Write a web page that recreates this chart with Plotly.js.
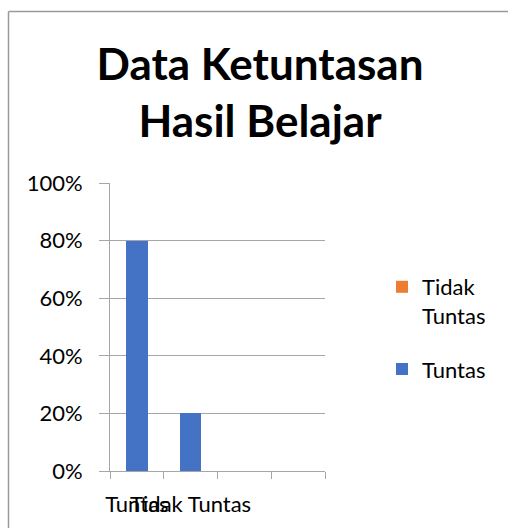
<!DOCTYPE html>
<html>
<head>
<meta charset="utf-8">
<script src="https://cdn.plot.ly/plotly-3.0.1.min.js"></script>
<style>
  html, body { margin: 0; padding: 0; background: #fff; }
  #chart { width: 508px; height: 528px; }
</style>
</head>
<body>
<div id="chart"></div>
<script>
// Data
const categories = ["Tuntas", "Tidak Tuntas", "", ""];
const tuntasValues = [0.8, 0.2, null, null];
const tidakTuntasValues = [0, 0, null, null];
const seriesNames = ["Tuntas", "Tidak Tuntas"];
const yTickValues = [0, 0.2, 0.4, 0.6, 0.8, 1.0];

const idx = categories.map((c, i) => i);
const FONT = "Lato, 'Liberation Sans', sans-serif";
const GRID = "#a6a6a6";

const traces = [
  {
    type: "bar",
    name: seriesNames[0],
    legendgroup: "g1",
    legendrank: 2,
    x: idx,
    y: tuntasValues,
    marker: { color: "#4472C4" },
    hoverinfo: "skip"
  },
  {
    type: "bar",
    name: seriesNames[1].replace(" ", "<br>"),
    legendgroup: "g2",
    legendrank: 1,
    x: idx,
    y: tidakTuntasValues,
    marker: { color: "#ED7D31" },
    hoverinfo: "skip"
  }
];

const layout = {
  width: 508,
  height: 528,
  paper_bgcolor: "#ffffff",
  plot_bgcolor: "#ffffff",
  margin: { l: 110, r: 183, t: 183, b: 57, pad: 0 },
  barmode: "stack",
  bargap: 0.6,
  showlegend: true,
  font: { family: FONT, color: "#000000", size: 22 },
  title: {
    text: "<b>Data Ketuntasan<br>Hasil Belajar</b>",
    font: { family: FONT, size: 44, color: "#000000" },
    x: 260 / 508, xanchor: "center", xref: "container",
    y: 0.848, yanchor: "top", yref: "container"
  },
  xaxis: {
    range: [-0.5, categories.length - 0.5],
    tickmode: "array",
    tickvals: idx.slice(0, 2),
    ticktext: categories.slice(0, 2),
    tickangle: 0,
    ticks: "",
    showgrid: false,
    zeroline: false,
    showline: true,
    linecolor: GRID,
    linewidth: 1,
    ticklabelstandoff: 14,
    tickfont: { family: FONT, size: 22, color: "#000000" },
    minor: {
      tickvals: [-0.5, 0.5, 1.5, 2.5, 3.5],
      ticks: "outside",
      ticklen: 7,
      tickcolor: GRID,
      tickwidth: 1,
      showgrid: false
    },
    fixedrange: true
  },
  yaxis: {
    range: [0, 1],
    tickmode: "array",
    tickvals: yTickValues,
    tickformat: ".0%",
    ticks: "outside",
    ticklen: 10,
    tickcolor: GRID,
    showgrid: true,
    gridcolor: GRID,
    gridwidth: 1,
    zeroline: false,
    showline: true,
    linecolor: GRID,
    linewidth: 1,
    ticklabelstandoff: 12,
    tickfont: { family: FONT, size: 22, color: "#000000" },
    fixedrange: true
  },
  legend: {
    x: 382 / 508,
    xref: "container",
    xanchor: "left",
    y: 1 - 266 / 528,
    yref: "container",
    yanchor: "top",
    traceorder: "grouped",
    valign: "top",
    tracegroupgap: 22,
    font: { family: FONT, size: 22, color: "#000000" },
    bgcolor: "rgba(0,0,0,0)",
    itemwidth: 30
  },
  shapes: [
    { type: "line", xref: "paper", yref: "paper",
      x0: (8.5 - 110) / 215, x1: (8.5 - 110) / 215,
      y0: (471 - 11.5) / 288, y1: (471 - 540) / 288,
      line: { color: "#9a9a9a", width: 1.5 } },
    { type: "line", xref: "paper", yref: "paper",
      x0: (8.5 - 110) / 215, x1: (520 - 110) / 215,
      y0: (471 - 11.5) / 288, y1: (471 - 11.5) / 288,
      line: { color: "#9a9a9a", width: 1.5 } }
  ]
};

Plotly.newPlot("chart", traces, layout, { displayModeBar: false, staticPlot: true });
</script>
</body>
</html>
